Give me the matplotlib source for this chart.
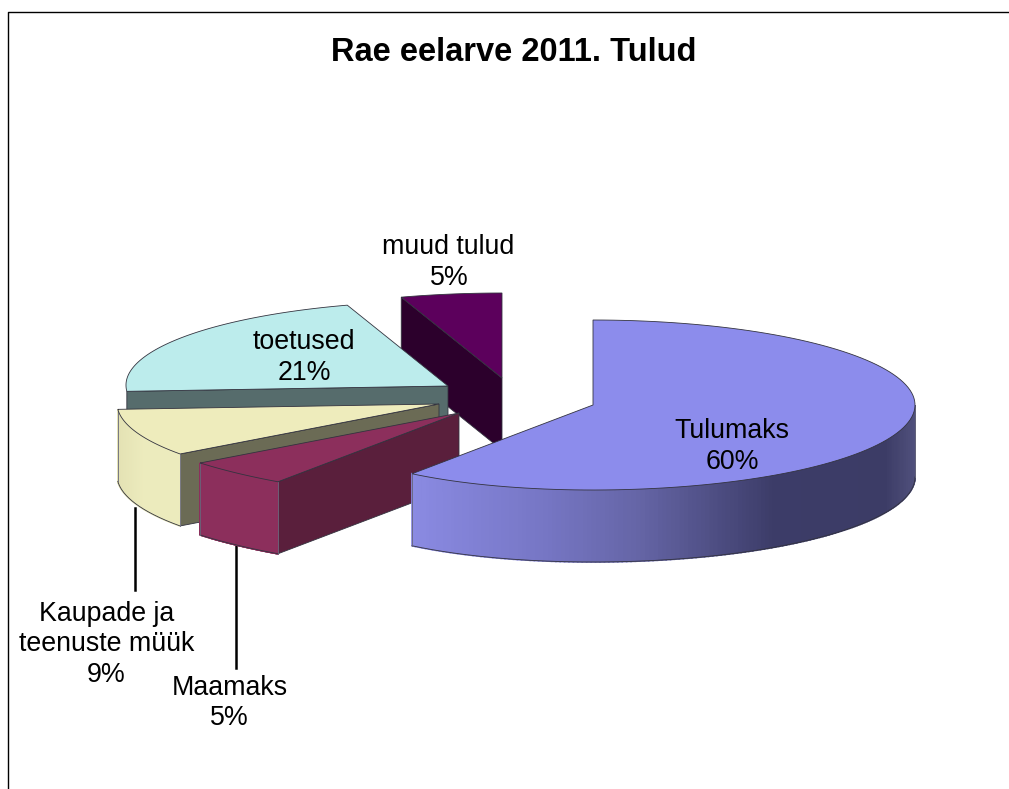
import matplotlib
matplotlib.use('Agg')
import matplotlib.pyplot as plt
import matplotlib.colors as mcolors
import numpy as np

plt.rcParams['font.family'] = ['Liberation Sans', 'DejaVu Sans']

title = 'Rae eelarve 2011. Tulud'
categories = ['Tulumaks', 'Maamaks', 'Kaupade ja teenuste müük', 'toetused', 'muud tulud']
values = [60, 5, 9, 21, 5]

# pixel layout of the exploded pie
centers = [(593, 405), (459, 413), (439, 404), (448, 386), (502, 378)]
ry, depth = 85, 72
top_colors = ['#8c8cec', '#8c2f5c', '#eeecbc', '#bcecec', '#5c005c']
face_colors = ['#3c3c68', '#5a1f3c', '#6b6b55', '#566c6c', '#2c002c']
edge = '#33333f'


def point(c, deg):
    a = np.radians(deg)
    # the picture's ellipse is a bit narrower at the front left
    rx = np.interp(deg, [0, 180, 216, 234, 270, 342, 360], [322, 322, 308, 320, 322, 326, 322])
    return c[0] + rx * np.sin(a), c[1] - ry * np.cos(a)


def arc(c, a0, a1):
    angles = np.linspace(a0, a1, 120)
    return [point(c, a) for a in angles]


fig = plt.figure(figsize=(10.09, 7.89), dpi=100)
ax = fig.add_axes([0, 0, 1, 1])
ax.set_xlim(0, 1009)
ax.set_ylim(789, 0)
ax.axis('off')

# chart frame
ax.plot([8, 8, 1009], [789, 12, 12], color='black', lw=1)

# running totals give the slice angles, clockwise from 12 o'clock
ends = np.cumsum(values) * 3.6
starts = np.concatenate([[0], ends[:-1]])

rim_stops = {
    0: [(0, '#8a8ae2'), (0.25, '#7777c6'), (0.45, '#6565a6'), (0.72, '#3c3c68'), (0.94, '#3c3c66'), (1, '#50507c')],
    1: [(0, '#8c2f5c'), (1, '#8c2f5c')],
    2: [(0, '#e4e2b4'), (0.4, '#ecebbd'), (1, '#ecebbd')],
}

# draw back to front
for i in [4, 3, 2, 1, 0]:
    c = centers[i]
    a0, a1 = starts[i], ends[i]
    z = 10 - i

    # cut face on the start side of the left slices
    if i > 0:
        p = point(c, a0)
        ax.fill([p[0], c[0], c[0], p[0]], [p[1], c[1], c[1] + depth, p[1] + depth],
                color=face_colors[i], ec=edge, lw=0.6, zorder=z)

    # rim, only the front part of the ellipse shows
    if i in rim_stops:
        r0 = max(a0, 90)
        r1 = min(a1, 270)
        cmap = mcolors.LinearSegmentedColormap.from_list('rim', rim_stops[i])
        angles = np.linspace(r0, r1, 160)
        pts = [point(c, a) for a in angles]
        xs = [q[0] for q in pts]
        lo, hi = min(xs), max(xs)
        for k in range(len(pts) - 1):
            q0, q1 = pts[k], pts[k + 1]
            col = cmap(((q0[0] + q1[0]) / 2 - lo) / (hi - lo))
            ax.fill([q0[0], q1[0], q1[0], q0[0]],
                    [q0[1], q1[1], q1[1] + depth, q0[1] + depth],
                    color=col, lw=1.2, zorder=z)
        bottom = [(q[0], q[1] + depth) for q in pts]
        ax.plot([q[0] for q in bottom], [q[1] for q in bottom], color=edge, lw=0.6, zorder=z)
        ax.plot([xs[0], xs[0]], [pts[0][1], pts[0][1] + depth], color='#66667a', lw=0.6, zorder=z)
        ax.plot([xs[-1], xs[-1]], [pts[-1][1], pts[-1][1] + depth], color='#66667a', lw=0.6, zorder=z)

    # top surface
    outline = [c] + arc(c, a0, a1)
    ax.fill([q[0] for q in outline], [q[1] for q in outline],
            color=top_colors[i], ec=edge, lw=0.6, zorder=z + 0.5)

# leader lines
ax.plot([135, 135], [508, 590], color='black', lw=1.8, zorder=5)
ax.plot([236, 236], [546, 668], color='black', lw=1.8, zorder=5)

ax.text(514, 52, title, fontsize=23.5, fontweight='bold', ha='center', va='center', color='black', zorder=20)

label_lines = [
    [('Tulumaks', 732, 431), (f'{values[0]}%', 732, 462)],
    [('Maamaks', 230, 688), (f'{values[1]}%', 229, 718)],
    [('Kaupade ja', 107, 614), ('teenuste müük', 107, 644), (f'{values[2]}%', 106, 675)],
    [('toetused', 304, 342), (f'{values[3]}%', 304, 373)],
    [('muud tulud', 448, 247), (f'{values[4]}%', 449, 278)],
]
for lines in label_lines:
    for txt, x, y in lines:
        ax.text(x, y, txt, fontsize=19.3, ha='center', va='center', color='black', zorder=20)

fig.savefig('out.png', dpi=100)
